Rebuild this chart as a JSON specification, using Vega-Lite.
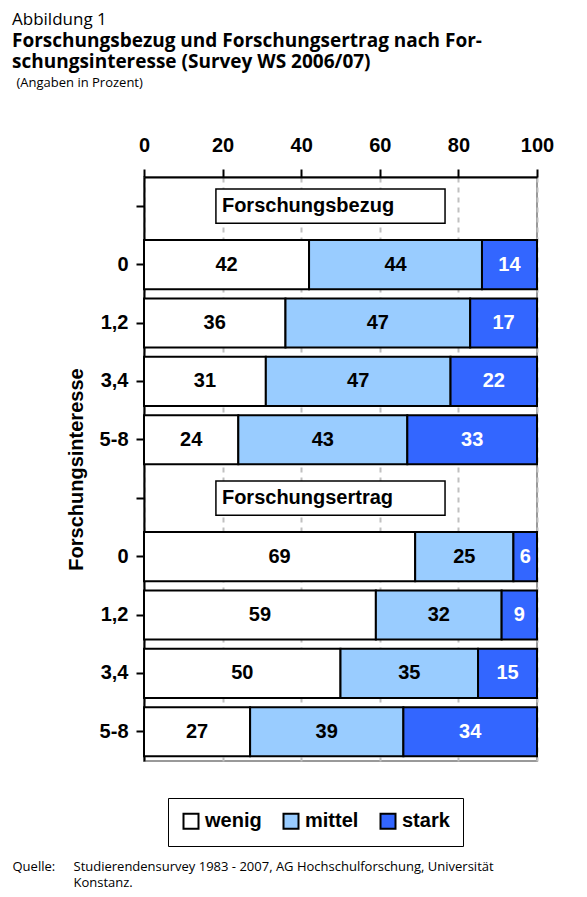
{
  "$schema": "https://vega.github.io/schema/vega-lite/v6.json",
  "width": 393,
  "height": 584,
  "autosize": {"type": "none"},
  "padding": {"left": 144, "top": 177, "right": 50, "bottom": 136},
  "background": "white",
  "config": {
    "view": {"stroke": "#999999", "strokeWidth": 2}
  },
  "title": {
    "text": "Abbildung 1",
    "subtitle": ["Forschungsbezug und Forschungsertrag nach For-", "schungsinteresse (Survey WS 2006/07)"],
    "anchor": "start",
    "frame": "group",
    "dx": -132,
    "offset": 3,
    "font": "Open Sans",
    "fontSize": 17,
    "fontWeight": "normal",
    "color": "black",
    "subtitleFont": "Open Sans",
    "subtitleFontSize": 19,
    "subtitleFontWeight": "bold",
    "subtitleColor": "black",
    "subtitleLineHeight": 21,
    "subtitlePadding": 3
  },
  "data": {
    "values": [
      {"key": "A 0", "level": "wenig", "i": 1, "value": 42},
      {"key": "A 0", "level": "mittel", "i": 2, "value": 44},
      {"key": "A 0", "level": "stark", "i": 3, "value": 14},
      {"key": "A 1,2", "level": "wenig", "i": 1, "value": 36},
      {"key": "A 1,2", "level": "mittel", "i": 2, "value": 47},
      {"key": "A 1,2", "level": "stark", "i": 3, "value": 17},
      {"key": "A 3,4", "level": "wenig", "i": 1, "value": 31},
      {"key": "A 3,4", "level": "mittel", "i": 2, "value": 47},
      {"key": "A 3,4", "level": "stark", "i": 3, "value": 22},
      {"key": "A 5-8", "level": "wenig", "i": 1, "value": 24},
      {"key": "A 5-8", "level": "mittel", "i": 2, "value": 43},
      {"key": "A 5-8", "level": "stark", "i": 3, "value": 33},
      {"key": "B 0", "level": "wenig", "i": 1, "value": 69},
      {"key": "B 0", "level": "mittel", "i": 2, "value": 25},
      {"key": "B 0", "level": "stark", "i": 3, "value": 6},
      {"key": "B 1,2", "level": "wenig", "i": 1, "value": 59},
      {"key": "B 1,2", "level": "mittel", "i": 2, "value": 32},
      {"key": "B 1,2", "level": "stark", "i": 3, "value": 9},
      {"key": "B 3,4", "level": "wenig", "i": 1, "value": 50},
      {"key": "B 3,4", "level": "mittel", "i": 2, "value": 35},
      {"key": "B 3,4", "level": "stark", "i": 3, "value": 15},
      {"key": "B 5-8", "level": "wenig", "i": 1, "value": 27},
      {"key": "B 5-8", "level": "mittel", "i": 2, "value": 39},
      {"key": "B 5-8", "level": "stark", "i": 3, "value": 34}
    ]
  },
  "resolve": {"axis": {"x": "independent"}},
  "layer": [
    {
      "mark": {"type": "bar", "stroke": "black", "strokeWidth": 2},
      "encoding": {
        "y": {
          "field": "key",
          "type": "nominal",
          "scale": {
            "domain": ["A", "A 0", "A 1,2", "A 3,4", "A 5-8", "B", "B 0", "B 1,2", "B 3,4", "B 5-8"],
            "paddingInner": 0.16,
            "paddingOuter": 0.08
          },
          "axis": {
            "orient": "left",
            "title": "Forschungsinteresse",
            "titleFontSize": 20,
            "titleColor": "black",
            "titlePadding": 13,
            "labelExpr": "slice(datum.value, 2)",
            "labelFontSize": 20,
            "labelFontWeight": "bold",
            "labelColor": "black",
            "labelPadding": 8,
            "tickSize": 8,
            "tickColor": "black",
            "tickWidth": 2,
            "domainColor": "black",
            "domainWidth": 2,
            "grid": false
          }
        },
        "x": {
          "field": "value",
          "type": "quantitative",
          "stack": "zero",
          "scale": {"domain": [0, 100], "nice": false},
          "axis": {
            "orient": "top",
            "values": [0, 20, 40, 60, 80, 100],
            "title": "(Angaben in Prozent)",
            "titleX": -128,
            "titleY": -91,
            "titleAlign": "left",
            "titleBaseline": "alphabetic",
            "titleFont": "Open Sans",
            "titleFontSize": 13,
            "titleFontWeight": "normal",
            "titleColor": "black",
            "labelFontSize": 20,
            "labelFontWeight": "bold",
            "labelColor": "black",
            "labelPadding": 14,
            "labelFlush": false,
            "tickSize": 8,
            "tickColor": "black",
            "tickWidth": 2,
            "domainColor": "black",
            "domainWidth": 2,
            "grid": true,
            "gridColor": "#c0c0c0",
            "gridDash": [5, 5],
            "gridWidth": 2
          }
        },
        "color": {
          "field": "level",
          "type": "nominal",
          "scale": {"domain": ["wenig", "mittel", "stark"], "range": ["#FFFFFF", "#99CCFF", "#3366FF"]},
          "legend": {
            "orient": "none",
            "legendX": 24,
            "legendY": 621,
            "direction": "horizontal",
            "title": null,
            "symbolType": "square",
            "symbolSize": 225,
            "symbolStrokeColor": "black",
            "symbolStrokeWidth": 2,
            "labelFontSize": 20,
            "labelFontWeight": "bold",
            "labelColor": "black",
            "labelOffset": 4,
            "columnPadding": 17,
            "padding": 13,
            "strokeColor": "black"
          }
        },
        "order": {"field": "i", "type": "quantitative"}
      }
    },
    {
      "mark": {"type": "text", "fontSize": 20, "fontWeight": "bold", "baseline": "middle"},
      "encoding": {
        "y": {"field": "key", "type": "nominal"},
        "x": {
          "field": "value",
          "type": "quantitative",
          "stack": "zero",
          "bandPosition": 0.5,
          "axis": {
            "orient": "bottom",
            "domain": false,
            "ticks": false,
            "labels": false,
            "grid": false,
            "title": ["Studierendensurvey 1983 - 2007, AG Hochschulforschung, Universität", "Konstanz."],
            "titleX": -71,
            "titleY": 109,
            "titleAlign": "left",
            "titleBaseline": "alphabetic",
            "titleFont": "Open Sans",
            "titleFontSize": 13,
            "titleFontWeight": "normal",
            "titleLineHeight": 16,
            "titleColor": "black"
          }
        },
        "detail": {"field": "level", "type": "nominal"},
        "order": {"field": "i", "type": "quantitative"},
        "text": {"field": "value", "type": "quantitative"},
        "color": {"condition": {"test": "datum.level == 'stark'", "value": "white"}, "value": "black"}
      }
    },
    {
      "data": {"values": [{"key": "A", "label": "Forschungsbezug"}, {"key": "B", "label": "Forschungsertrag"}]},
      "mark": {"type": "bar", "fill": "white", "stroke": "black", "strokeWidth": 1.5, "height": {"band": 0.7}},
      "encoding": {
        "y": {"field": "key", "type": "nominal"},
        "x": {
          "datum": 18.3,
          "type": "quantitative",
          "axis": {
            "orient": "bottom",
            "domain": false,
            "ticks": false,
            "labels": false,
            "grid": false,
            "title": "Quelle:",
            "titleX": -132,
            "titleY": 109,
            "titleAlign": "left",
            "titleBaseline": "alphabetic",
            "titleFont": "Open Sans",
            "titleFontSize": 13,
            "titleFontWeight": "normal",
            "titleColor": "black"
          }
        },
        "x2": {"datum": 76.6}
      }
    },
    {
      "data": {"values": [{"key": "A", "label": "Forschungsbezug"}, {"key": "B", "label": "Forschungsertrag"}]},
      "mark": {"type": "text", "align": "left", "baseline": "middle", "dx": 6, "fontSize": 20, "fontWeight": "bold", "color": "black"},
      "encoding": {
        "y": {"field": "key", "type": "nominal"},
        "x": {"datum": 18.3, "type": "quantitative", "axis": null},
        "text": {"field": "label", "type": "nominal"}
      }
    }
  ]
}
